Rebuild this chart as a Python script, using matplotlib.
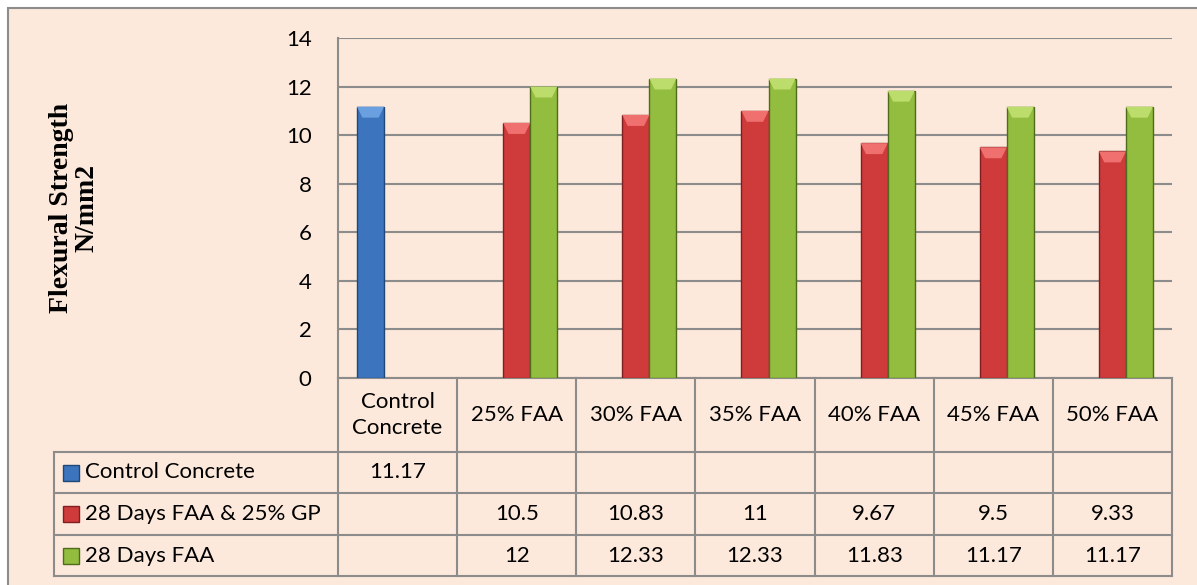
import numpy as np
import matplotlib
matplotlib.use('Agg')
from matplotlib import pyplot as plt
from matplotlib.patches import Rectangle, Polygon
from matplotlib.transforms import blended_transform_factory

categories = ['Control\nConcrete', '25% FAA', '30% FAA', '35% FAA', '40% FAA', '45% FAA', '50% FAA']
series_names = ['Control Concrete', '28 Days FAA & 25% GP', '28 Days FAA']
control = [11.17, np.nan, np.nan, np.nan, np.nan, np.nan, np.nan]
faa_gp = [np.nan, 10.5, 10.83, 11, 9.67, 9.5, 9.33]
faa = [np.nan, 12, 12.33, 12.33, 11.83, 11.17, 11.17]
series = [control, faa_gp, faa]
colors = ['#3c74bd', '#cf3b3b', '#93bd3e']
tops = ['#6aa0e0', '#f07070', '#bcdc6c']
edges = ['#1f4778', '#7f1f1f', '#4f6b1c']

W, H = 1197, 585
bg = '#fde9db'
grid = '#8c8c8c'
plt.rcParams['font.family'] = ['Lato', 'DejaVu Sans']

fig = plt.figure(figsize=(W / 100, H / 100), dpi=100)
fig.patch.set_facecolor('white')

def fx(px):
    return px / W

def fy(py):
    return 1 - py / H

# chart area with border
fig.patches.append(Rectangle((fx(8), fy(H + 5)), fx(W + 5 - 8), fy(8) - fy(H + 5),
                             transform=fig.transFigure, facecolor=bg,
                             edgecolor=grid, linewidth=1.5, zorder=-5))

left, right, top, bottom = 338, 1172, 38, 378
ax = fig.add_axes([fx(left), fy(bottom), fx(right - left), fy(top) - fy(bottom)])
ax.set_facecolor('none')

x = np.arange(len(categories))
w = 0.227
for i, vals in enumerate(series):
    bars = ax.bar(x + (i - 1) * w, vals, width=w, color=colors[i], edgecolor=edges[i],
                  linewidth=1, zorder=3)
    # bevel highlight on top of each bar
    for b in bars:
        h = b.get_height()
        if np.isnan(h):
            continue
        x0, bw = b.get_x(), b.get_width()
        ax.add_patch(Polygon([(x0, h), (x0 + bw, h), (x0 + bw * 0.8, h - 0.45),
                              (x0 + bw * 0.2, h - 0.45)], closed=True,
                             facecolor=tops[i], edgecolor='none', zorder=4))

ax.set_xlim(-0.5, len(categories) - 0.5)
ax.set_ylim(0, 14)
ax.set_yticks(range(0, 15, 2))
ax.yaxis.grid(True, color=grid, linewidth=1.5, zorder=0)
ax.set_axisbelow(True)
ax.set_xticks([])
for s in ['top', 'right']:
    ax.spines[s].set_visible(False)
ax.spines['left'].set_color(grid)
ax.spines['left'].set_linewidth(1.5)
ax.spines['bottom'].set_color(grid)
ax.spines['bottom'].set_linewidth(1.5)
ax.tick_params(axis='y', length=0, labelsize=16, pad=19)

fig.text(fx(74), fy(208), 'Flexural Strength\nN/mm2', rotation=90, ha='center', va='center',
         fontsize=20, fontweight='bold', family='Liberation Serif', linespacing=1.05)

# data table
tr = blended_transform_factory(ax.transData, fig.transFigure)
rows = [452, 493, 535, 576]
tab_left = 54
lk = dict(color=grid, linewidth=1.5, clip_on=False)
for py in rows:
    fig.add_artist(plt.Line2D([fx(tab_left), fx(right)], [fy(py), fy(py)],
                              transform=fig.transFigure, **lk))
fig.add_artist(plt.Line2D([fx(tab_left), fx(tab_left)], [fy(rows[0]), fy(rows[-1])],
                          transform=fig.transFigure, **lk))
for b in np.arange(len(categories) + 1) - 0.5:
    fig.add_artist(plt.Line2D([b, b], [fy(bottom), fy(rows[-1])], transform=tr, **lk))

for i, c in enumerate(categories):
    fig.text(i, fy((bottom + rows[0]) / 2), c, transform=tr, ha='center', va='center',
             fontsize=16, linespacing=1.35)

for r, (name, vals) in enumerate(zip(series_names, series)):
    yc = fy((rows[r] + rows[r + 1]) / 2)
    fig.patches.append(Rectangle((fx(63), yc - 8 / H), fx(16), 16 / H, transform=fig.transFigure,
                                 facecolor=colors[r], edgecolor=edges[r], linewidth=1))
    fig.text(fx(85), yc, name, ha='left', va='center', fontsize=16)
    for i, v in enumerate(vals):
        if not np.isnan(v):
            fig.text(i, yc, f'{v:g}', transform=tr, ha='center', va='center', fontsize=16)

fig.savefig('out.png', dpi=100, facecolor=fig.get_facecolor())
